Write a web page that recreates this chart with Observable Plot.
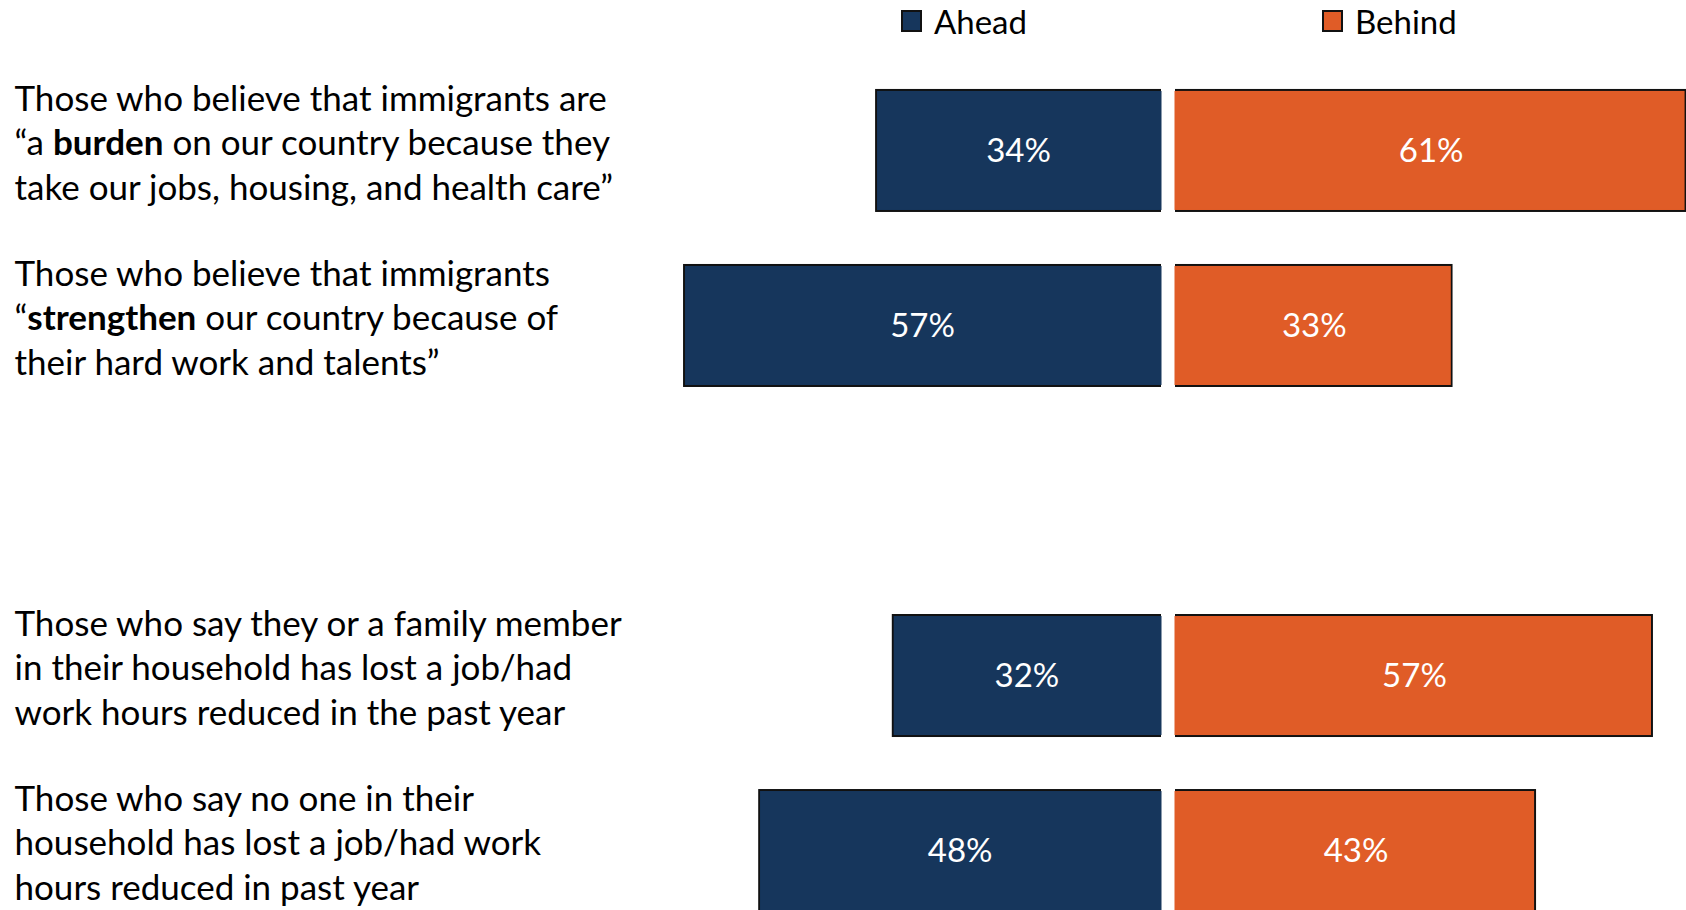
<!DOCTYPE html>
<html><head><meta charset="utf-8">
<script src="https://cdn.jsdelivr.net/npm/d3@7"></script>
<script src="https://cdn.jsdelivr.net/npm/@observablehq/plot@0.6"></script>
<style>
html,body{margin:0;padding:0;overflow:hidden;background:#fff;}
#wrap{position:relative;width:1686px;height:910px;overflow:hidden;font-family:Lato, sans-serif;}
#legend{position:absolute;top:0;left:0;width:1686px;height:44px;z-index:2;}
.item{position:absolute;top:0;display:flex;align-items:center;height:42px;font-size:33px;color:#000;}
.sw{width:17px;height:18px;border:2px solid #111;margin-right:12px;}
svg{display:block;}
</style></head><body><div id="wrap"><div id="legend"></div></div>
<script>
// ---- data ----
const groupKeys = ["Burden", "Strengthen", "", "Lost job/hours", "No job/hours lost"];
const groupLabels = [
  "Those who believe that immigrants are\n“a **burden** on our country because they\ntake our jobs, housing, and health care”",
  "Those who believe that immigrants\n“**strengthen** our country because of\ntheir hard work and talents”",
  "",
  "Those who say they or a family member\nin their household has lost a job/had\nwork hours reduced in the past year",
  "Those who say no one in their\nhousehold has lost a job/had work\nhours reduced in past year"
];
const aheadValues = [34, 57, null, 32, 48];
const behindValues = [61, 33, null, 57, 43];
const seriesNames = ["Ahead", "Behind"];
const seriesColors = ["#16365C", "#E05C27"];
const legendLefts = [901, 1322];

// ---- tables ----
const aheadRows = groupKeys.map((k, i) => ({key: k, value: aheadValues[i]})).filter(d => d.value != null);
const behindRows = groupKeys.map((k, i) => ({key: k, value: behindValues[i]})).filter(d => d.value != null);
const labelRows = groupKeys.map((k, i) => ({key: k, label: groupLabels[i]})).filter(d => d.label);

// ---- legend ----
const legend = document.getElementById("legend");
seriesNames.forEach((n, i) => {
  const it = document.createElement("div");
  it.className = "item";
  it.style.left = legendLefts[i] + "px";
  it.innerHTML = `<span class="sw" style="background:${seriesColors[i]}"></span><span>${n}</span>`;
  legend.appendChild(it);
});

const gap = 8;
const chart = Plot.plot({
  width: 1686,
  height: 1001,
  marginTop: 0, marginBottom: 0, marginLeft: 14, marginRight: 0,
  style: {fontFamily: "Lato, sans-serif", background: "white"},
  x: {domain: [-100, 100], range: [1168 - 835, 1168 + 835], axis: null},
  y: {domain: groupKeys, paddingInner: 0.3086, paddingOuter: 0.514, align: 0.5, round: false, axis: null},
  marks: [
    Plot.barX(aheadRows, {y: "key", x1: 0, x2: d => -d.value, fill: seriesColors[0], stroke: "#111", strokeWidth: 2, dx: -gap}),
    Plot.barX(aheadRows, {y: "key", x1: 0, x2: d => -d.value, fill: seriesColors[0], dx: -gap, insetTop: 1, insetBottom: 1, insetLeft: 1, insetRight: -1.5}),
    Plot.barX(behindRows, {y: "key", x1: 0, x2: d => d.value, fill: seriesColors[1], stroke: "#111", strokeWidth: 2, dx: gap}),
    Plot.barX(behindRows, {y: "key", x1: 0, x2: d => d.value, fill: seriesColors[1], dx: gap, insetTop: 1, insetBottom: 1, insetLeft: -1.5, insetRight: 1}),
    Plot.text(aheadRows, {y: "key", x: d => -d.value / 2, text: d => d.value + "%", fill: "white", fontSize: 33, dx: -gap}),
    Plot.text(behindRows, {y: "key", x: d => d.value / 2, text: d => d.value + "%", fill: "white", fontSize: 33, dx: gap}),
    Plot.text(labelRows, {y: "key", text: "label", frameAnchor: "left", textAnchor: "start", lineAnchor: "middle", lineHeight: 1.275, fontSize: 35, fill: "#000", dy: -10})
  ]
});

function applyBold(root) {
  for (const el of [...root.querySelectorAll("text, tspan")]) {
    for (const node of [...el.childNodes]) {
      if (node.nodeType === 3 && node.nodeValue.includes("**")) {
        const parts = node.nodeValue.split("**");
        const frag = document.createDocumentFragment();
        parts.forEach((p, i) => {
          if (!p) return;
          if (i % 2) {
            const t = document.createElementNS("http://www.w3.org/2000/svg", "tspan");
            t.setAttribute("font-weight", "bold");
            t.textContent = p;
            frag.appendChild(t);
          } else frag.appendChild(document.createTextNode(p));
        });
        el.replaceChild(frag, node);
      }
    }
  }
}
applyBold(chart);
document.getElementById("wrap").appendChild(chart);
</script></body></html>
